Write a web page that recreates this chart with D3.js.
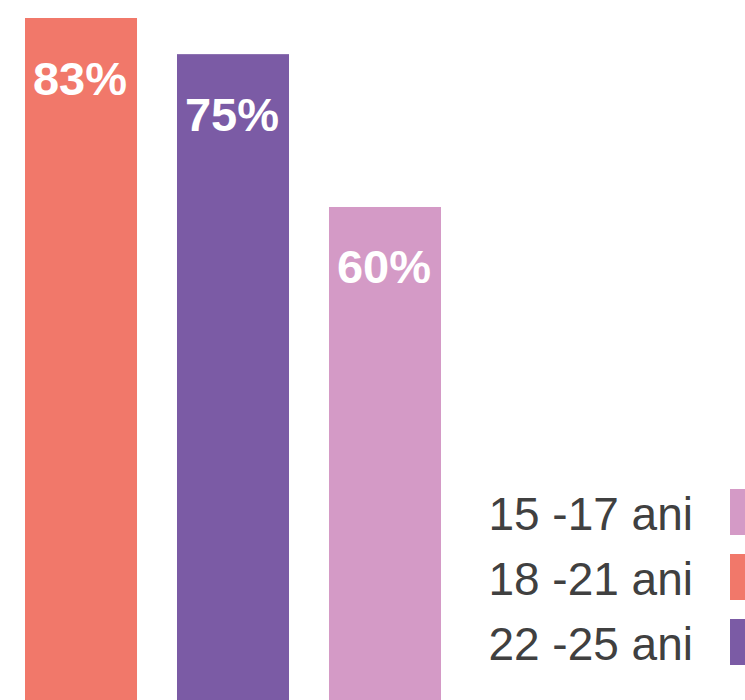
<!DOCTYPE html>
<html><head><meta charset="utf-8">
<script src="https://cdn.jsdelivr.net/npm/d3@7"></script>
<style>html,body{margin:0;padding:0;background:#fff;overflow:hidden}svg{display:block}</style>
</head><body>
<script>
const categories = ["18 -21 ani", "22 -25 ani", "15 -17 ani"];
const values = [83, 78.6, 60];
const valueLabels = ["83%", "75%", "60%"];
const colors = ["#F1786A", "#7B5BA5", "#D49AC6"];
const legendOrder = ["15 -17 ani", "18 -21 ani", "22 -25 ani"];

const W = 745, H = 700;
const svg = d3.select("body").append("svg").attr("width", W).attr("height", H);

const x = d3.scaleBand().domain(categories).range([25, 441]).paddingInner(0.263).paddingOuter(0);
const y = d3.scaleLinear().domain([0, 83]).range([700, 18]);
const color = d3.scaleOrdinal().domain(categories).range(colors);

const g = svg.append("g");
g.selectAll("rect.bar").data(categories).join("rect")
  .attr("class", "bar")
  .attr("x", d => x(d))
  .attr("width", x.bandwidth())
  .attr("y", (d, i) => y(values[i]))
  .attr("height", (d, i) => y(0) - y(values[i]))
  .attr("fill", d => color(d));

g.selectAll("text.val").data(categories).join("text")
  .attr("class", "val")
  .attr("x", d => x(d) + x.bandwidth() / 2 - 1)
  .attr("y", (d, i) => y(values[i]) + 76.5)
  .attr("text-anchor", "middle")
  .attr("font-family", "Liberation Sans, Arial, sans-serif")
  .attr("font-weight", "bold")
  .attr("font-size", 47)
  .attr("fill", "#fff")
  .text((d, i) => valueLabels[i]);

const ly = d3.scalePoint().domain(legendOrder).range([530, 660]);
const leg = svg.append("g");
leg.selectAll("text").data(legendOrder).join("text")
  .attr("x", 693)
  .attr("y", d => ly(d))
  .attr("text-anchor", "end")
  .attr("font-family", "Liberation Sans, Arial, sans-serif")
  .attr("font-size", 46)
  .attr("fill", "#404040")
  .text(d => d);
leg.selectAll("rect").data(legendOrder).join("rect")
  .attr("x", 730)
  .attr("y", d => ly(d) - 41)
  .attr("width", 30)
  .attr("height", 46)
  .attr("fill", d => color(d));
</script>
</body></html>
